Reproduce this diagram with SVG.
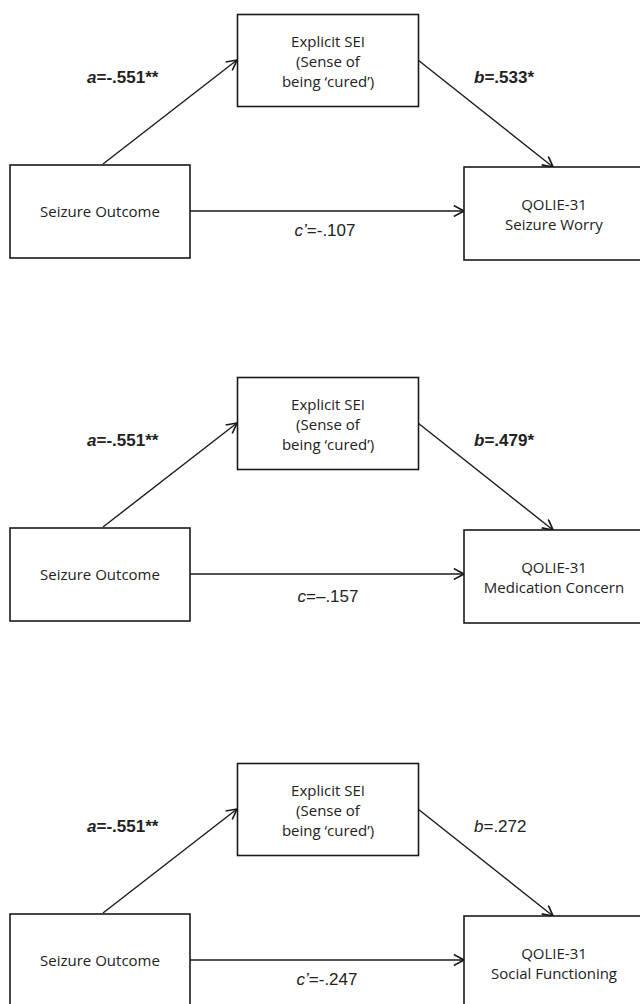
<svg xmlns="http://www.w3.org/2000/svg" width="640" height="1004" viewBox="0 0 640 1004">
<style>
.box{fill:#fff;stroke:#1a1a1a;stroke-width:1.6}
.edge{fill:none;stroke:#1a1a1a;stroke-width:1.4}
.nt{font-family:"Open Sans","Noto Sans",sans-serif;font-size:15px;fill:#222;text-anchor:middle}
.lb{font-family:"Liberation Sans",Arial,sans-serif;font-size:17px;fill:#222}
.bd{font-weight:bold}
.it{font-style:italic}
.mid{text-anchor:middle}
</style>
<defs>
<marker id="arr" markerUnits="userSpaceOnUse" markerWidth="12" markerHeight="12" viewBox="0 0 10 10" refX="9.5" refY="5" orient="auto">
<path d="M1,0.5 L9.5,5 L1,9.5" fill="none" stroke="#1a1a1a" stroke-width="1.4"/>
</marker>
</defs>
<rect width="640" height="1004" fill="#fff"/>

<!-- Panel 1 -->
<g id="p1-edges">
<line class="edge" x1="103" y1="164" x2="237" y2="60" marker-end="url(#arr)"/>
<line class="edge" x1="418" y1="60" x2="553" y2="167" marker-end="url(#arr)"/>
<line class="edge" x1="190" y1="211" x2="464" y2="211" marker-end="url(#arr)"/>
<text class="lb bd" x="87" y="83"><tspan class="it">a</tspan>=-.551**</text>
<text class="lb bd" x="474" y="83"><tspan class="it">b</tspan>=.533*</text>
<text class="lb mid" x="325" y="236"><tspan class="it">c’</tspan>=-.107</text>
</g>
<g id="p1-mediator">
<rect class="box" x="237.5" y="14.5" width="181" height="92"/>
<text class="nt" x="328" y="47">Explicit SEI</text>
<text class="nt" x="328" y="67">(Sense of</text>
<text class="nt" x="328" y="87">being ‘cured’)</text>
</g>
<g id="p1-predictor">
<rect class="box" x="10" y="165" width="180" height="93"/>
<text class="nt" x="100" y="217">Seizure Outcome</text>
</g>
<g id="p1-outcome">
<rect class="box" x="464" y="167" width="182" height="93"/>
<text class="nt" x="554" y="210">QOLIE-31</text>
<text class="nt" x="554" y="230">Seizure Worry</text>
</g>

<!-- Panel 2 -->
<g id="p2-edges">
<line class="edge" x1="103" y1="527" x2="237" y2="423" marker-end="url(#arr)"/>
<line class="edge" x1="418" y1="423" x2="553" y2="530" marker-end="url(#arr)"/>
<line class="edge" x1="190" y1="574" x2="464" y2="574" marker-end="url(#arr)"/>
<text class="lb bd" x="87" y="446"><tspan class="it">a</tspan>=-.551**</text>
<text class="lb bd" x="474" y="446"><tspan class="it">b</tspan>=.479*</text>
<text class="lb mid" x="328" y="602"><tspan class="it">c</tspan>=–.157</text>
</g>
<g id="p2-mediator">
<rect class="box" x="237.5" y="377.5" width="181" height="92"/>
<text class="nt" x="328" y="410">Explicit SEI</text>
<text class="nt" x="328" y="430">(Sense of</text>
<text class="nt" x="328" y="450">being ‘cured’)</text>
</g>
<g id="p2-predictor">
<rect class="box" x="10" y="528" width="180" height="93"/>
<text class="nt" x="100" y="580">Seizure Outcome</text>
</g>
<g id="p2-outcome">
<rect class="box" x="464" y="530" width="182" height="93"/>
<text class="nt" x="554" y="573">QOLIE-31</text>
<text class="nt" x="554" y="593">Medication Concern</text>
</g>

<!-- Panel 3 -->
<g id="p3-edges">
<line class="edge" x1="103" y1="913" x2="237" y2="809" marker-end="url(#arr)"/>
<line class="edge" x1="418" y1="809" x2="553" y2="916" marker-end="url(#arr)"/>
<line class="edge" x1="190" y1="960" x2="464" y2="960" marker-end="url(#arr)"/>
<text class="lb bd" x="87" y="832"><tspan class="it">a</tspan>=-.551**</text>
<text class="lb" x="474" y="832"><tspan class="it">b</tspan>=.272</text>
<text class="lb mid" x="327" y="985"><tspan class="it">c’</tspan>=-.247</text>
</g>
<g id="p3-mediator">
<rect class="box" x="237.5" y="763.5" width="181" height="92"/>
<text class="nt" x="328" y="796">Explicit SEI</text>
<text class="nt" x="328" y="816">(Sense of</text>
<text class="nt" x="328" y="836">being ‘cured’)</text>
</g>
<g id="p3-predictor">
<rect class="box" x="10" y="914" width="180" height="93"/>
<text class="nt" x="100" y="966">Seizure Outcome</text>
</g>
<g id="p3-outcome">
<rect class="box" x="464" y="916" width="182" height="93"/>
<text class="nt" x="554" y="959">QOLIE-31</text>
<text class="nt" x="554" y="979">Social Functioning</text>
</g>
</svg>
